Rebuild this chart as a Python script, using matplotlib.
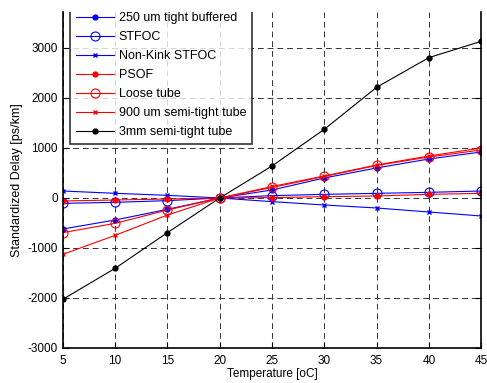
import numpy as np
import matplotlib
matplotlib.use("Agg")
import matplotlib.pyplot as plt

plt.rcParams['font.family'] = ['Liberation Sans', 'DejaVu Sans']
plt.rcParams['axes.unicode_minus'] = False

temp = [5, 10, 15, 20, 25, 30, 35, 40, 45]

tight_250 = [-620, -440, -227, 0, 160, 400, 600, 780, 920]
stfoc = [-107, -87, -53, 0, 47, 73, 93, 113, 140]
nonkink = [140, 93, 53, 0, -73, -140, -200, -280, -360]
psof = [-60, -40, -20, 0, 7, 27, 40, 73, 93]
loose = [-693, -507, -240, 0, 210, 430, 650, 820, 960]
semi_900 = [-1127, -747, -340, 0, 230, 440, 660, 840, 1000]
semi_3mm = [-2026, -1407, -693, 0, 640, 1373, 2213, 2807, 3133]

labels = ['250 um tight buffered', 'STFOC', 'Non-Kink STFOC', 'PSOF',
          'Loose tube', '900 um semi-tight tube', '3mm semi-tight tube']

fig = plt.figure(figsize=(4.87, 3.83), dpi=100)
ax = fig.add_axes([0.129, 0.0914, 0.859, 0.8773])

lw = 0.8
ax.plot(temp, tight_250, 'b.-', lw=lw, ms=7, label=labels[0])
ax.plot(temp, stfoc, 'bo-', lw=lw, ms=6.5, mfc='none', mew=0.8, label=labels[1])
ax.plot(temp, nonkink, 'bx-', lw=lw, ms=3.5, mew=1, label=labels[2])
ax.plot(temp, psof, 'r.-', lw=lw, ms=7, label=labels[3])
ax.plot(temp, loose, 'ro-', lw=lw, ms=6.5, mfc='none', mew=0.8, label=labels[4])
ax.plot(temp, semi_900, 'rx-', lw=lw, ms=3.5, mew=1, label=labels[5])
ax.plot(temp, semi_3mm, 'k.-', lw=lw, ms=7, label=labels[6])

ax.set_xlim(5, 45)
ax.set_ylim(-3000, 3720)
ax.set_xticks(range(5, 46, 5))
ax.set_yticks(range(-3000, 3001, 1000))
ax.grid(True, color='#333333', linestyle=(0, (6, 4)), linewidth=0.7)
ax.tick_params(direction='in', top=False, right=True, labelsize=8.5, length=4)
ax.tick_params(axis='x', pad=5)
ax.spines['top'].set_visible(False)
for s in ['left', 'right', 'bottom']:
    ax.spines[s].set_linewidth(1.2)

ax.set_xlabel('Temperature [oC]', fontsize=8.5, labelpad=1)
ax.set_ylabel('Standardized Delay [ps/km]', fontsize=9, labelpad=3)

leg = ax.legend(loc='upper left', bbox_to_anchor=(0.0167, 1.018), fontsize=9,
                frameon=True, fancybox=False, borderaxespad=0,
                handlelength=3.0, handletextpad=0.4, labelspacing=0.56,
                borderpad=0.5)
fr = leg.get_frame()
fr.set_edgecolor('black')
fr.set_linewidth(1.2)
fr.set_clip_on(True)
fr.set_clip_box(ax.bbox)

fig.savefig('out.png', dpi=100)
